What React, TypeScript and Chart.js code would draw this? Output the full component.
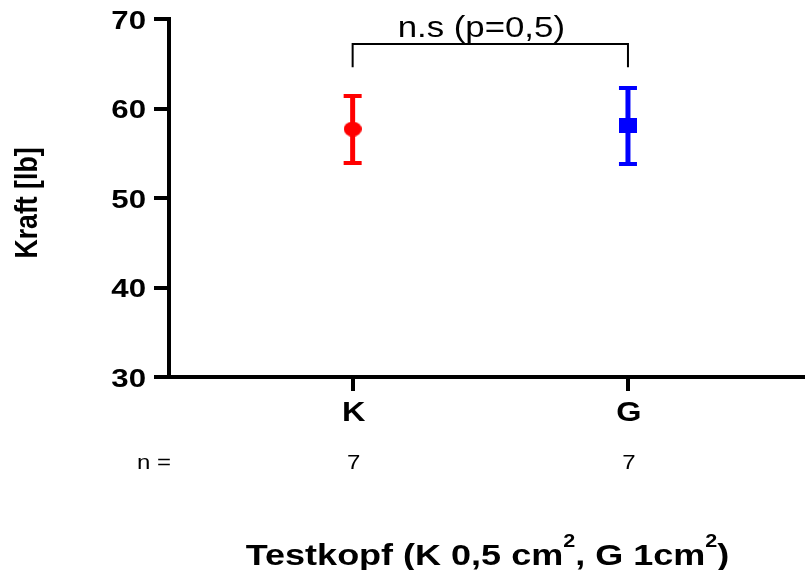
import React, { useEffect, useRef } from 'react';
import { Chart, registerables } from 'chart.js';

Chart.register(...registerables);

// ---- data ----
const categories = ['K', 'G'];
const means = [57.7, 58.1];
const errLow = [53.9, 53.8];
const errHigh = [61.4, 62.3];
const nValues = ['7', '7'];
const yTicks = [30, 40, 50, 60, 70];
const yTitle = 'Kraft [lb]';
const nLabel = 'n =';
const sigLabel = 'n.s (p=0,5)';
const sigBracketTop = 67.2;
const sigBracketBottom = 64.6;
const xTitleParts = [
  { text: 'Testkopf (K 0,5 cm', sup: false },
  { text: '2', sup: true },
  { text: ', G 1cm', sup: false },
  { text: '2', sup: true },
  { text: ')', sup: false },
];

// ---- styles ----
const colors = ['#ff0000', '#0000ff'];
const markerShapes = ['ellipse', 'rect'];
const TEXT_FONT = '"Liberation Sans", Arial, sans-serif';
const STRETCH = 1.2;

function makeMarker(shape: string, color: string) {
  const c = document.createElement('canvas');
  c.width = 18;
  c.height = 15;
  const g = c.getContext('2d')!;
  g.fillStyle = color;
  if (shape === 'ellipse') {
    g.beginPath();
    g.ellipse(9, 7.5, 9, 7.5, 0, 0, Math.PI * 2);
    g.fill();
  } else {
    g.fillRect(0, 0, 18, 15);
  }
  return c;
}

function drawStretched(ctx: any, text: string, x: number, y: number, align: 'left' | 'center' | 'right') {
  ctx.save();
  ctx.translate(x, y);
  ctx.scale(STRETCH, 1);
  ctx.textAlign = align;
  ctx.fillText(text, 0, 0);
  ctx.restore();
}

const overlayPlugin = {
  id: 'overlay',
  beforeDatasetsDraw(chart: any) {
    const { ctx, scales } = chart;
    const x = scales.x;
    const y = scales.y;
    ctx.save();
    ctx.lineCap = 'butt';
    categories.forEach((_, i) => {
      const px = x.getPixelForValue(i + 1);
      const top = y.getPixelForValue(errHigh[i]);
      const bot = y.getPixelForValue(errLow[i]);
      ctx.strokeStyle = colors[i];
      ctx.lineWidth = 5;
      ctx.beginPath();
      ctx.moveTo(px, top);
      ctx.lineTo(px, bot);
      ctx.stroke();
      ctx.lineWidth = 4;
      ctx.beginPath();
      ctx.moveTo(px - 9, top);
      ctx.lineTo(px + 9, top);
      ctx.moveTo(px - 9, bot);
      ctx.lineTo(px + 9, bot);
      ctx.stroke();
    });
    ctx.restore();
  },
  afterDraw(chart: any) {
    const { ctx, scales } = chart;
    const x = scales.x;
    const y = scales.y;
    ctx.save();
    ctx.fillStyle = '#000';
    ctx.textBaseline = 'alphabetic';

    // tick labels at the scales' tick positions
    ctx.font = `bold 26px ${TEXT_FONT}`;
    y.ticks.forEach((t: any) => {
      drawStretched(ctx, String(t.value), 146, y.getPixelForValue(t.value) + 9.5, 'right');
    });
    ctx.font = `bold 27px ${TEXT_FONT}`;
    x.ticks.forEach((t: any) => {
      const lbl = categories[Math.round(t.value) - 1] ?? '';
      drawStretched(ctx, lbl, x.getPixelForValue(t.value) + 1, 421, 'center');
    });

    // significance bracket
    const x1 = x.getPixelForValue(1);
    const x2 = x.getPixelForValue(2);
    const yt = y.getPixelForValue(sigBracketTop);
    const yb = y.getPixelForValue(sigBracketBottom);
    ctx.strokeStyle = '#000';
    ctx.lineWidth = 2;
    ctx.beginPath();
    ctx.moveTo(x1, yb);
    ctx.lineTo(x1, yt);
    ctx.lineTo(x2, yt);
    ctx.lineTo(x2, yb);
    ctx.stroke();
    ctx.font = `normal 29px ${TEXT_FONT}`;
    drawStretched(ctx, sigLabel, (x1 + x2) / 2 - 9, yt - 7, 'center');

    // y title (rotated)
    ctx.save();
    ctx.translate(28, 203);
    ctx.rotate(-Math.PI / 2);
    ctx.scale(1 / STRETCH, 1);
    ctx.font = `bold 32px ${TEXT_FONT}`;
    ctx.textAlign = 'center';
    ctx.textBaseline = 'middle';
    ctx.fillText(yTitle, 0, 0);
    ctx.restore();

    // n row
    ctx.font = `normal 20px ${TEXT_FONT}`;
    drawStretched(ctx, nLabel, 137, 469, 'left');
    categories.forEach((_, i) => {
      drawStretched(ctx, nValues[i], x.getPixelForValue(i + 1) + 1, 469, 'center');
    });

    // x title with superscripts
    const mainFont = `bold 30px ${TEXT_FONT}`;
    const supFont = `bold 18px ${TEXT_FONT}`;
    let total = 0;
    const widths = xTitleParts.map((p) => {
      ctx.font = p.sup ? supFont : mainFont;
      const w = ctx.measureText(p.text).width * STRETCH;
      total += w;
      return w;
    });
    let cx = 487.5 - total / 2;
    const baseY = 565;
    xTitleParts.forEach((p, i) => {
      ctx.font = p.sup ? supFont : mainFont;
      drawStretched(ctx, p.text, cx, p.sup ? baseY - 18 : baseY, 'left');
      cx += widths[i];
    });
    ctx.restore();
  },
};

export default function App() {
  const ref = useRef<HTMLCanvasElement | null>(null);
  useEffect(() => {
    if (!ref.current) return;
    const chart = new Chart(ref.current, {
      type: 'scatter',
      data: {
        datasets: categories.map((c, i) => ({
          label: c,
          data: [{ x: i + 1, y: means[i] }],
          backgroundColor: colors[i],
          borderColor: colors[i],
          pointStyle: makeMarker(markerShapes[i], colors[i]) as any,
          pointRadius: 9,
          pointBorderWidth: 0,
        })),
      },
      options: {
        animation: false,
        responsive: false,
        devicePixelRatio: 1,
        layout: { autoPadding: false, padding: { top: 19, right: 0, left: 0, bottom: 0 } },
        plugins: { legend: { display: false }, tooltip: { enabled: false } },
        scales: {
          x: {
            type: 'linear',
            min: 0.333,
            max: 2.643,
            afterBuildTicks: (s: any) => {
              s.ticks = categories.map((_, i) => ({ value: i + 1 }));
            },
            afterFit: (s: any) => {
              s.height = 193;
              s.paddingLeft = 0;
              s.paddingRight = 0;
            },
            ticks: {
              color: 'rgba(0,0,0,0)',
              font: { size: 27 },
              autoSkip: false,
              maxRotation: 0,
              callback: (v: any) => categories[Math.round(v) - 1] ?? '',
            },
            grid: {
              drawOnChartArea: false,
              drawTicks: true,
              tickLength: 14,
              lineWidth: 4,
              color: '#000',
            },
            border: { display: true, width: 4, color: '#000' },
          },
          y: {
            min: 30,
            max: 70,
            afterBuildTicks: (s: any) => {
              s.ticks = yTicks.map((v) => ({ value: v }));
            },
            afterFit: (s: any) => {
              s.width = 169;
              s.paddingTop = 0;
              s.paddingBottom = 0;
            },
            ticks: {
              color: 'rgba(0,0,0,0)',
              font: { size: 24 },
            },
            grid: {
              drawOnChartArea: false,
              drawTicks: true,
              tickLength: 15,
              lineWidth: 4,
              color: '#000',
            },
            border: { display: true, width: 4, color: '#000' },
            title: { display: false },
          },
        },
      },
      plugins: [overlayPlugin],
    } as any);
    return () => chart.destroy();
  }, []);
  return (
    <div style={{ position: 'absolute', left: 0, top: 0, width: 805, height: 570 }}>
      <canvas ref={ref} width={805} height={570} style={{ display: 'block' }} />
    </div>
  );
}
